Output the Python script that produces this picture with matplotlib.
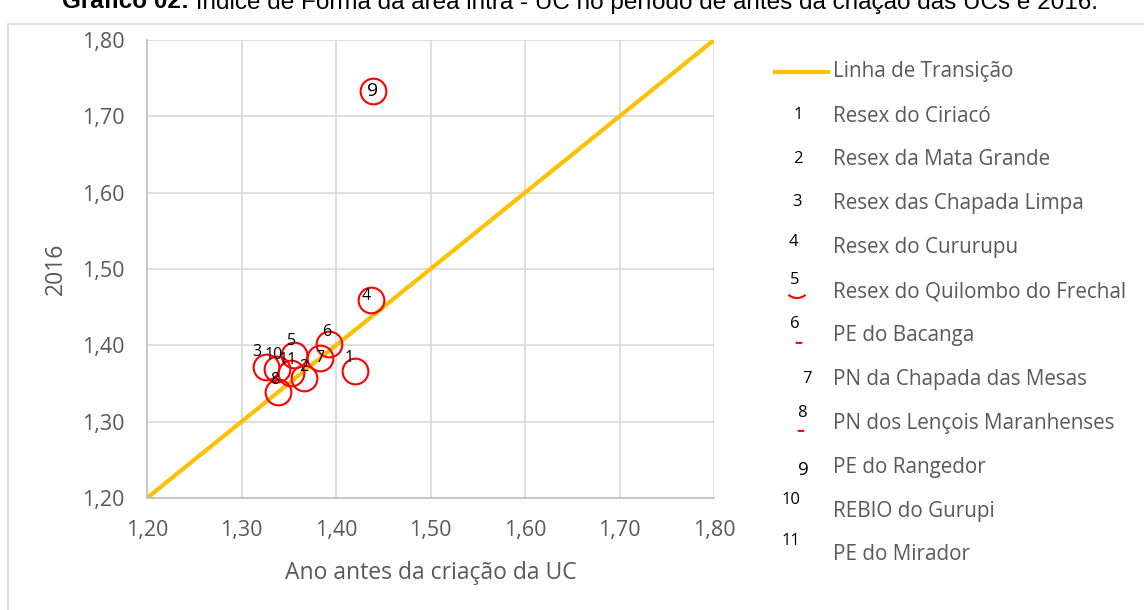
import matplotlib.pyplot as plt
from matplotlib.lines import Line2D
from matplotlib.patches import Rectangle, Arc

# dados
ids = ["1", "2", "3", "4", "5", "6", "7", "8", "9", "10", "11"]
nomes = ["Resex do Ciriacó", "Resex da Mata Grande", "Resex das Chapada Limpa",
         "Resex do Cururupu", "Resex do Quilombo do Frechal", "PE do Bacanga",
         "PN da Chapada das Mesas", "PN dos Lençois Maranhenses", "PE do Rangedor",
         "REBIO do Gurupi", "PE do Mirador"]
antes = [1.420, 1.366, 1.326, 1.437, 1.356, 1.393, 1.383, 1.339, 1.439, 1.338, 1.352]
ano_2016 = [1.366, 1.357, 1.371, 1.459, 1.387, 1.402, 1.383, 1.339, 1.733, 1.369, 1.364]
linha = [1.20, 1.80]
ticks = [1.20, 1.30, 1.40, 1.50, 1.60, 1.70, 1.80]

cinza = "#595959"
W, H = 1144, 610

fig = plt.figure(figsize=(W / 100, H / 100), dpi=100)

# moldura do grafico
fig.add_artist(Rectangle((8 / W, -0.05), 1.2, 1 - 24 / H + 0.05, transform=fig.transFigure,
                         fill=False, edgecolor="#d9d9d9", linewidth=1.2))

# titulo (cortado no topo, como no original)
t1 = fig.text(62 / W, 1 - 1 / H, "Gráfico 02:", ha="left", va="center",
              fontsize=17.5, weight="bold", family="Liberation Sans", color="black")
fig.add_artist(plt.Annotation(" Índice de Forma da área intra - UC no período de antes da criação das UCs e 2016.",
                              xy=(1, 0.5), xycoords=t1, ha="left", va="center",
                              fontsize=17.5, family="Liberation Sans", color="black"))

ax = fig.add_axes([147 / W, 1 - 498 / H, 567 / W, 458 / H])
ax.plot(linha, linha, color="#ffc000", linewidth=3, solid_capstyle="butt", zorder=2)
ax.plot(antes, ano_2016, linestyle="none", marker="o", markersize=18.5,
        markerfacecolor="none", markeredgecolor="#ff0000", markeredgewidth=1.5, zorder=3)

# deslocamento dos rotulos (px)
desloc = {"1": (-6, 13), "2": (0, 11), "3": (-9, 15), "4": (-5, 4), "5": (-3, 14),
          "6": (-3, 12), "7": (0, 0), "8": (-4, 12), "9": (0, 0), "10": (-4, 14), "11": (-3, 13)}
for i, x, y in zip(ids, antes, ano_2016):
    dx, dy = desloc[i]
    ax.annotate(i, (x, y), xytext=(dx * 0.72, dy * 0.72), textcoords="offset points",
                ha="center", va="center", fontsize=14 if i == "9" else 11.5,
                family="Open Sans", color="black", zorder=4)

ax.set_xlim(1.2, 1.8)
ax.set_ylim(1.2, 1.8)
ax.set_xticks(ticks)
ax.set_yticks(ticks)
ax.set_xticklabels([f"{t:.2f}".replace(".", ",") for t in ticks])
ax.set_yticklabels([f"{t:.2f}".replace(".", ",") for t in ticks])
ax.tick_params(length=0, labelsize=15.5, labelcolor=cinza, pad=16)
for lab in ax.get_xticklabels() + ax.get_yticklabels():
    lab.set_family("Open Sans")
ax.grid(True, color="#d9d9d9", linewidth=1.2)
ax.set_axisbelow(True)
for s in ["top", "right"]:
    ax.spines[s].set_visible(False)
for s in ["left", "bottom"]:
    ax.spines[s].set_color("#bfbfbf")
    ax.spines[s].set_linewidth(1.2)

ax.set_xlabel("Ano antes da criação da UC", fontsize=16.5, color=cinza, family="Open Sans", labelpad=14)
ax.set_ylabel("2016", fontsize=16.5, color=cinza, family="Open Sans", labelpad=10)

# legenda (feita a mao, como no original)
fig.add_artist(Line2D([775 / W, 828 / W], [1 - 72 / H, 1 - 72 / H], color="#ffc000",
                      linewidth=3, transform=fig.transFigure))
fig.text(833 / W, 1 - 72 / H, "Linha de Transição", ha="left", va="center",
         fontsize=14.9, color=cinza, family="Open Sans")
# posicao dos numeros da legenda: (x px, quanto acima do texto px)
num_pos = {"1": (798, 1), "2": (798, 1), "3": (797, 2), "4": (793, 6), "5": (795, 12),
           "6": (795, 11), "7": (807, 0), "8": (802, 10), "9": (803, -3), "10": (791, 11),
           "11": (791, 14)}
for k, (i, nome) in enumerate(zip(ids, nomes)):
    y = 116 + k * 43.9
    fig.text(833 / W, 1 - y / H, nome, ha="left", va="center",
             fontsize=14.9, color=cinza, family="Open Sans")
    nx, up = num_pos[i]
    fig.text(nx / W, 1 - (y - up) / H, i, ha="center", va="center",
             fontsize=13.5 if i == "9" else 12, color="black", family="Open Sans")

# pedacinhos de circulo vermelho visiveis na legenda
for cx, cy, t0, t1a in [(797, 285, 245, 295), (799, 330, 262, 278), (801, 418, 262, 278)]:
    fig.add_artist(Arc((cx / W, 1 - cy / H), 26 / W, 26 / H, theta1=t0, theta2=t1a,
                       transform=fig.transFigure, color="#ff0000", linewidth=1.5))

fig.savefig("out.png", dpi=100)
